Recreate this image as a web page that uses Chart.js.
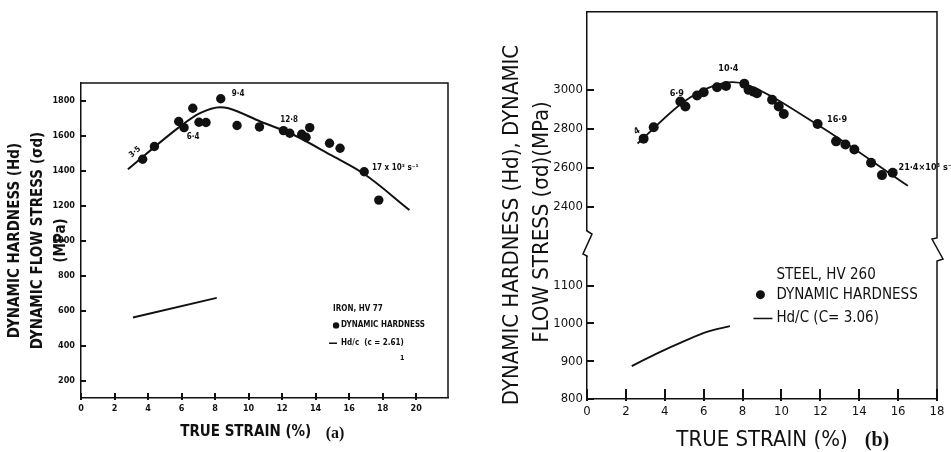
<!DOCTYPE html>
<html>
<head>
<meta charset="utf-8">
<script src="https://cdn.jsdelivr.net/npm/chart.js@4.4.0/dist/chart.umd.min.js"></script>
<style>
  html, body { margin: 0; padding: 0; background: #fff; }
  #wrap { position: relative; width: 951px; height: 452px; overflow: hidden; }
  canvas { position: absolute; top: 0; }
  #chartA { left: 0; }
  #chartB { left: 470px; }
</style>
</head>
<body>
<div id="wrap">
  <canvas id="chartA" width="460" height="452"></canvas>
  <canvas id="chartB" width="481" height="452"></canvas>
</div>
<script>
// ---- (a) iron, HV 77 ----
const strainA   = [3.68, 4.38, 5.83, 6.15, 6.67, 7.04, 7.46, 8.34, 9.31, 10.65, 12.08, 12.46, 13.17, 13.43, 13.65, 14.83, 15.46, 16.9, 17.77];
const hardnessA = [1464, 1537, 1680, 1645, 1756, 1676, 1674, 1810, 1657, 1649, 1628, 1613, 1607, 1590, 1645, 1556, 1527, 1393, 1231];
const fitStrainA = [2.8, 5.9, 7.1, 8.3, 8.8, 10.7, 12.7, 14.9, 16.9, 19.6];
const fitStressA = [1407, 1651, 1728, 1762, 1756, 1680, 1603, 1489, 1380, 1174];
const hdcStrainA = [3.1, 8.1];
const hdcStressA = [560, 672];
const xTicksA = [0, 2, 4, 6, 8, 10, 12, 14, 16, 18, 20];
const yTicksA = [200, 400, 600, 800, 1000, 1200, 1400, 1600, 1800];

// ---- (b) steel, HV 260 ----
const strainB   = [2.91, 3.43, 4.80, 5.06, 5.66, 6.0, 6.69, 7.15, 8.09, 8.31, 8.57, 8.74, 9.52, 9.86, 10.12, 11.86, 12.81, 13.29, 13.75, 14.61, 15.17, 15.72];
const hardnessB = [2750, 2808, 2940, 2915, 2971, 2988, 3013, 3020, 3031, 3000, 2991, 2983, 2949, 2915, 2876, 2825, 2736, 2720, 2694, 2626, 2563, 2575];
const fitStrainB = [2.6, 5.0, 6.5, 7.5, 8.2, 12.0, 16.5];
const fitStressB = [2725, 2940, 3020, 3040, 3027, 2812, 2508];
const hdcStrainB = [2.3, 3.5, 5.0, 6.2, 7.35];
const hdcStressB = [887, 918, 953, 978, 993];
const xTicksB = [0, 2, 4, 6, 8, 10, 12, 14, 16, 18];
const yTicksHighB = [2400, 2600, 2800, 3000];
const yTicksLowB = [800, 900, 1000, 1100];

const FONT = "'DejaVu Sans Condensed', 'DejaVu Sans', sans-serif";
const SERIF = "'Liberation Serif', 'DejaVu Serif', serif";
const INK = '#111';

const pts = (xs, ys) => xs.map((x, i) => ({ x: x, y: ys[i] }));
const fixTicks = list => scale => { scale.ticks = list.map(v => ({ value: v })); };
const plain = v => String(v);
const noGrid = { display: false, drawTicks: false };

// top + right frame, inward tick marks, optional axis break
const frame = {
    id: 'frame',
    afterDraw(chart, args, opts) {
        const { ctx, chartArea: a } = chart;
        const lenX = opts.lenX || 5, lenY = opts.lenY || 5;
        ctx.save();
        ctx.fillStyle = INK;
        for (const id of Object.keys(chart.scales)) {
            const s = chart.scales[id];
            const horiz = s.isHorizontal();
            for (const t of s.ticks) {
                const p = Math.round(s.getPixelForValue(t.value));
                if (horiz) ctx.fillRect(p - 1, a.bottom - lenX, 2, lenX + 2);
                else ctx.fillRect(a.left, p - 1, lenY, 2);
            }
        }

        ctx.strokeStyle = INK;
        ctx.lineWidth = 1.5;
        if (!opts.breakScale) {
            ctx.beginPath();
            ctx.moveTo(a.left, a.top);
            ctx.lineTo(a.right, a.top);
            ctx.lineTo(a.right, a.bottom);
            ctx.stroke();
        } else {
            const b = chart.scales[opts.breakScale].top;
            const L = a.left, R = a.right;
            ctx.fillStyle = '#fff';
            ctx.fillRect(L - 6, b - 13, 13, 25);
            ctx.beginPath();
            ctx.moveTo(L, a.top); ctx.lineTo(R, a.top);
            ctx.lineTo(R, b - 6); ctx.lineTo(R - 5, b - 5); ctx.lineTo(R + 6, b + 15); ctx.lineTo(R, b + 17);
            ctx.lineTo(R, a.bottom);
            ctx.moveTo(L, b - 14); ctx.lineTo(L, b - 13); ctx.lineTo(L + 5, b - 10); ctx.lineTo(L - 4, b + 10); ctx.lineTo(L, b + 12); ctx.lineTo(L, b + 13);
            ctx.stroke();
        }
        ctx.restore();
    }
};

// free text, legend marks and rate labels
const notes = {
    id: 'notes',
    afterDraw(chart, args, opts) {
        const ctx = chart.ctx;
        for (const n of opts.items) {
            const px = n.px !== undefined ? n.px : chart.scales.x.getPixelForValue(n.x);
            const py = n.py !== undefined ? n.py : chart.scales[n.yAxis || 'y'].getPixelForValue(n.y);
            ctx.save();
            ctx.translate(px, py);
            if (n.rot) ctx.rotate(n.rot * Math.PI / 180);
            ctx.fillStyle = INK;
            ctx.strokeStyle = INK;
            if (n.mark === 'dot') {
                ctx.beginPath();
                ctx.arc(0, 0, n.r, 0, Math.PI * 2);
                ctx.fill();
            } else if (n.mark === 'line') {
                ctx.lineWidth = 1.5;
                ctx.beginPath();
                ctx.moveTo(0, 0);
                ctx.lineTo(n.len, 0);
                ctx.stroke();
            } else {
                ctx.font = n.font;
                ctx.textAlign = n.align || 'left';
                ctx.textBaseline = 'middle';
                ctx.fillText(n.text, 0, 0);
            }
            ctx.restore();
        }
    }
};

const baseOpts = {
    responsive: false,
    animation: false,
    events: []
};

// ======== (a) ========
new Chart(document.getElementById('chartA'), {
    type: 'scatter',
    data: {
        datasets: [
            { data: pts(strainA, hardnessA), pointRadius: 4.7, pointBackgroundColor: INK, pointBorderWidth: 0 },
            { data: pts(fitStrainA, fitStressA), showLine: true, pointRadius: 0, borderColor: INK, borderWidth: 2, cubicInterpolationMode: 'monotone' },
            { data: pts(hdcStrainA, hdcStressA), showLine: true, pointRadius: 0, borderColor: INK, borderWidth: 1.8 }
        ]
    },
    options: {
        ...baseOpts,
        layout: { autoPadding: false, padding: { top: 83, right: 12, bottom: 0, left: 0 } },
        plugins: {
            legend: { display: false },
            tooltip: { enabled: false },
            frame: { lenX: 5, lenY: 5 },
            notes: {
                items: [
                    { text: '3·5', x: 3.22, y: 1506, rot: -40, align: 'center', font: `bold 8px ${FONT}` },
                    { text: '6·4', x: 6.69, y: 1592, align: 'center', font: `bold 8px ${FONT}` },
                    { text: '9·4', x: 9.37, y: 1838, align: 'center', font: `bold 8px ${FONT}` },
                    { text: '12·8', x: 12.42, y: 1689, align: 'center', font: `bold 8px ${FONT}` },
                    { text: '17 x 10³ s⁻¹', x: 17.37, y: 1414, font: `bold 8px ${FONT}` },
                    { text: 'IRON, HV 77', x: 15.04, y: 610, font: `bold 8px ${FONT}` },
                    { mark: 'dot', r: 3.2, x: 15.22, y: 515 },
                    { text: 'DYNAMIC HARDNESS', x: 15.52, y: 515, font: `bold 8px ${FONT}` },
                    { mark: 'line', len: 8, x: 14.8, y: 413 },
                    { text: 'Hd/c  (c = 2.61)', x: 15.52, y: 413, font: `bold 8px ${FONT}` },
                    { text: '1', x: 19.04, y: 325, font: `bold 7px ${FONT}` },
                    { text: '(a)', px: 335, py: 434, align: 'center', font: `bold 16px ${SERIF}` }
                ]
            }
        },
        scales: {
            x: {
                type: 'linear', min: 0, max: 21.9,
                afterBuildTicks: fixTicks(xTicksA),
                afterFit: s => { s.height = 54; },
                grid: noGrid,
                border: { color: INK, width: 1.5 },
                ticks: { color: INK, padding: 5, callback: plain, font: { family: FONT, size: 9, weight: 'bold' } },
                title: {
                    display: true, text: 'TRUE STRAIN (%)        ', color: INK,
                    font: { family: FONT, size: 15, weight: 'bold', lineHeight: 1.2 },
                    padding: { top: 0, bottom: 11 }
                }
            },
            y: {
                type: 'linear', min: 100, max: 1900,
                afterBuildTicks: fixTicks(yTicksA),
                afterFit: s => { s.width = 81; },
                grid: noGrid,
                border: { color: INK, width: 1.5 },
                ticks: { color: INK, padding: 6, callback: plain, font: { family: FONT, size: 9, weight: 'bold' } },
                title: {
                    display: true, color: INK,
                    text: ['DYNAMIC HARDNESS (Hd)', 'DYNAMIC FLOW STRESS (σd)', '(MPa)'],
                    font: { family: FONT, size: 15, weight: 'bold', lineHeight: 1.55 },
                    padding: { top: 3, bottom: 0 }
                }
            }
        }
    },
    plugins: [frame, notes]
});

// ======== (b) ========
new Chart(document.getElementById('chartB'), {
    type: 'scatter',
    data: {
        datasets: [
            { data: pts(strainB, hardnessB), yAxisID: 'yHigh', pointRadius: 5, pointBackgroundColor: INK, pointBorderWidth: 0 },
            { data: pts(fitStrainB, fitStressB), yAxisID: 'yHigh', showLine: true, pointRadius: 0, borderColor: INK, borderWidth: 1.8, cubicInterpolationMode: 'monotone' },
            { data: pts(hdcStrainB, hdcStressB), yAxisID: 'yLow', showLine: true, pointRadius: 0, borderColor: INK, borderWidth: 1.8, cubicInterpolationMode: 'monotone' }
        ]
    },
    options: {
        ...baseOpts,
        layout: { autoPadding: false, padding: { top: 9, right: 14, bottom: 0, left: 0 } },
        plugins: {
            legend: { display: false },
            tooltip: { enabled: false },
            frame: { lenX: 10, lenY: 7, breakScale: 'yLow' },
            notes: {
                items: [
                    { text: '4', x: 2.57, y: 2787, yAxis: 'yHigh', rot: -30, align: 'center', font: `bold 9px ${FONT}` },
                    { text: '6·9', x: 4.62, y: 2983, yAxis: 'yHigh', align: 'center', font: `bold 9px ${FONT}` },
                    { text: '10·4', x: 7.27, y: 3110, yAxis: 'yHigh', align: 'center', font: `bold 9px ${FONT}` },
                    { text: '16·9', x: 12.86, y: 2849, yAxis: 'yHigh', align: 'center', font: `bold 9px ${FONT}` },
                    { text: '21·4×10³ s⁻¹', x: 16.02, y: 2600, yAxis: 'yHigh', font: `bold 9px ${FONT}` },
                    { text: 'STEEL, HV 260', x: 9.74, y: 1129, yAxis: 'yLow', font: `15px ${FONT}` },
                    { mark: 'dot', r: 4.5, x: 8.92, y: 1076, yAxis: 'yLow' },
                    { text: 'DYNAMIC HARDNESS', x: 9.74, y: 1074, yAxis: 'yLow', font: `15px ${FONT}` },
                    { mark: 'line', len: 19, x: 8.56, y: 1013, yAxis: 'yLow' },
                    { text: 'Hd/C (C= 3.06)', x: 9.74, y: 1013, yAxis: 'yLow', font: `15px ${FONT}` },
                    { text: 'DYNAMIC HARDNESS (Hd), DYNAMIC', px: 42, py: 225, rot: -90, align: 'center', font: `22px ${FONT}` },
                    { text: 'FLOW STRESS (σd)(MPa)', px: 72, py: 222, rot: -90, align: 'center', font: `22px ${FONT}` },
                    { text: '(b)', px: 407, py: 441, align: 'center', font: `bold 20px ${SERIF}` }
                ]
            }
        },
        scales: {
            x: {
                type: 'linear', min: 0, max: 18,
                afterBuildTicks: fixTicks(xTicksB),
                afterFit: s => { s.height = 53; },
                grid: noGrid,
                border: { color: INK, width: 1.5 },
                ticks: { color: INK, padding: 5, callback: plain, font: { family: FONT, size: 13 } },
                title: {
                    display: true, text: 'TRUE STRAIN (%)', color: INK,
                    font: { family: FONT, size: 22, lineHeight: 1.0 },
                    padding: { top: 0, bottom: 1 }
                }
            },
            yLow: {
                type: 'linear', position: 'left', stack: 'yb', stackWeight: 155.8,
                min: 800, max: 1210,
                afterBuildTicks: fixTicks(yTicksLowB),
                afterFit: s => { s.width = 117; },
                grid: noGrid,
                border: { color: INK, width: 1.5 },
                ticks: { color: INK, padding: 4, callback: plain, font: { family: FONT, size: 13 } }
            },
            yHigh: {
                type: 'linear', position: 'left', stack: 'yb', stackWeight: 233.4,
                min: 2210, max: 3400,
                afterBuildTicks: fixTicks(yTicksHighB),
                afterFit: s => { s.width = 117; },
                grid: noGrid,
                border: { color: INK, width: 1.5 },
                ticks: { color: INK, padding: 4, callback: plain, font: { family: FONT, size: 13 } }
            }
        }
    },
    plugins: [frame, notes]
});
</script>
</body>
</html>
